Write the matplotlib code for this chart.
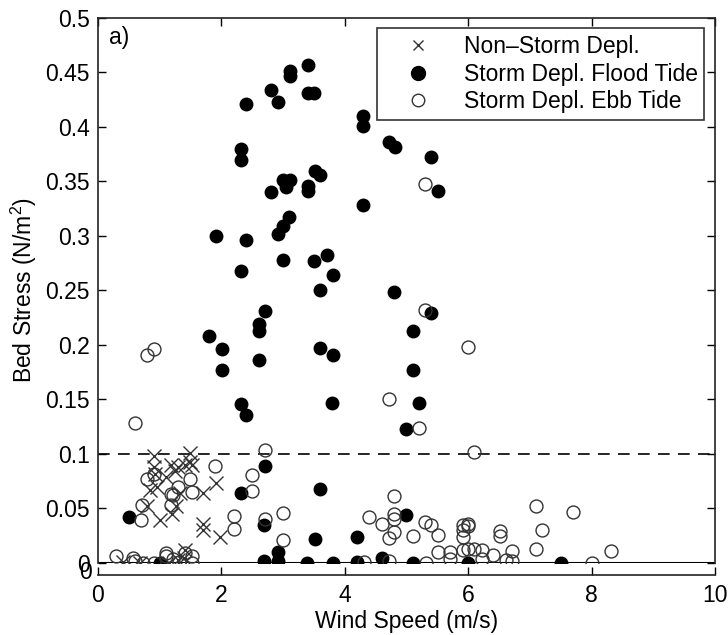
import matplotlib
matplotlib.use("Agg")
import matplotlib.pyplot as plt
from matplotlib.lines import Line2D

plt.rcParams['font.family'] = ['Liberation Sans', 'DejaVu Sans']
plt.rcParams['mathtext.fontset'] = 'custom'
plt.rcParams['mathtext.rm'] = 'Liberation Sans'

# Non-storm deployment
ns_x = [0.90, 0.90, 0.93, 1.19, 1.30, 1.49, 1.49, 1.41, 1.52, 1.92, 1.71, 0.84, 1.11, 1.25,
        0.79, 1.00, 1.27, 1.33, 1.71, 1.71, 1.98, 1.41, 0.41, 0.68, 1.15, 1.30, 1.40, 0.95, 1.20]
ns_y = [0.098, 0.088, 0.082, 0.090, 0.088, 0.101, 0.093, 0.090, 0.090, 0.073, 0.064, 0.067, 0.079, 0.084,
        0.052, 0.039, 0.052, 0.064, 0.036, 0.030, 0.024, 0.012, 0.001, 0.000, 0.000, 0.003, 0.005, 0.070, 0.045]

# Storm deployment, flood tide
fl_x = [1.91, 2.40, 2.40, 2.31, 2.31, 2.80, 2.91, 3.11, 3.11, 3.40, 3.40, 3.50, 4.30, 4.30, 4.72, 4.81,
        3.51, 3.60, 3.00, 3.11, 3.05, 2.80, 3.40, 3.40, 4.30, 3.10, 3.00, 2.91, 3.71, 3.00, 3.50, 2.31,
        3.81, 3.60, 4.80, 2.71, 2.61, 2.61, 1.80, 2.01, 3.60, 3.81, 2.61, 2.01, 5.10, 5.10, 2.31, 2.40,
        3.80, 5.20, 5.00, 5.40, 5.51, 5.40, 0.51, 2.71, 2.31, 3.60, 2.69, 3.52, 4.20, 2.91, 2.91, 2.69,
        1.00, 3.39, 3.81, 4.20, 4.61, 5.00, 5.10, 6.00, 7.50]
fl_y = [0.300, 0.421, 0.296, 0.380, 0.370, 0.434, 0.423, 0.451, 0.447, 0.457, 0.431, 0.431, 0.410, 0.401, 0.386, 0.382,
        0.360, 0.356, 0.351, 0.351, 0.345, 0.340, 0.346, 0.341, 0.328, 0.317, 0.309, 0.302, 0.283, 0.278, 0.277, 0.268,
        0.264, 0.250, 0.249, 0.231, 0.219, 0.213, 0.208, 0.196, 0.197, 0.191, 0.186, 0.177, 0.213, 0.177, 0.146, 0.136,
        0.147, 0.147, 0.123, 0.372, 0.341, 0.229, 0.042, 0.089, 0.064, 0.068, 0.035, 0.022, 0.024, 0.010, 0.002, 0.002,
        0.000, 0.000, 0.000, 0.001, 0.005, 0.044, 0.000, 0.000, 0.000]

# Storm deployment, ebb tide
eb_x = [0.80, 0.91, 0.60, 4.71, 5.30, 6.00, 5.20, 6.10, 5.30, 2.70, 1.90, 2.50, 2.50, 3.00, 2.70, 2.20,
        2.20, 3.00, 4.80, 4.40, 4.60, 4.80, 4.80, 4.80, 4.71, 5.10, 5.30, 5.40, 5.51, 5.51, 5.70, 5.70,
        5.31, 4.71, 4.31, 5.91, 6.00, 5.91, 5.91, 6.00, 5.91, 6.00, 6.10, 6.22, 6.22, 6.41, 6.51, 6.51,
        6.71, 6.71, 6.61, 7.10, 7.10, 7.20, 7.70, 8.00, 8.31, 0.30, 0.57, 0.60, 0.73, 0.90, 1.11, 1.11,
        1.22, 1.32, 1.41, 1.52, 1.52, 0.71, 0.69, 0.79, 0.91, 1.19, 1.19, 1.30, 1.22, 1.49, 1.52]
eb_y = [0.191, 0.196, 0.128, 0.150, 0.232, 0.198, 0.124, 0.102, 0.348, 0.104, 0.089, 0.081, 0.066, 0.046, 0.040, 0.043,
        0.031, 0.021, 0.061, 0.042, 0.036, 0.045, 0.040, 0.028, 0.023, 0.025, 0.038, 0.035, 0.026, 0.010, 0.010, 0.004,
        0.000, 0.002, 0.001, 0.035, 0.036, 0.030, 0.024, 0.034, 0.012, 0.013, 0.013, 0.012, 0.004, 0.007, 0.029, 0.025,
        0.011, 0.002, 0.003, 0.052, 0.013, 0.030, 0.047, 0.000, 0.011, 0.006, 0.005, 0.002, 0.000, 0.000, 0.009, 0.006,
        0.004, 0.001, 0.009, 0.006, 0.000, 0.053, 0.039, 0.077, 0.082, 0.063, 0.053, 0.070, 0.062, 0.077, 0.065]

x_ticks = [0, 2, 4, 6, 8, 10]
y_ticks = [0, 0.05, 0.1, 0.15, 0.2, 0.25, 0.3, 0.35, 0.4, 0.45, 0.5]
y_tick_labels = ['0', '0.05', '0.1', '0.15', '0.2', '0.25', '0.3', '0.35', '0.4', '0.45', '0.5']
threshold = 0.1

FS = 16.5
fig = plt.figure(figsize=(7.28, 6.35), dpi=100)
ax = fig.add_axes([0.1346, 0.1134, 0.8475, 0.8583])

for s in ax.spines.values():
    s.set_linewidth(1.2)
    s.set_color('#222222')
ax.spines['bottom'].set_position(('outward', 9))

ax.axhline(0, color='black', lw=1.5, zorder=1)
ax.axhline(threshold, color='black', lw=1.2, ls=(0, (7, 5)), zorder=1)

ax.plot(ns_x, ns_y, ls='none', marker='x', ms=10.5, mew=1.0, color='#333333', zorder=3)
ax.plot(fl_x, fl_y, ls='none', marker='o', ms=9, mfc='black', mec='black', zorder=2)
ax.plot(eb_x, eb_y, ls='none', marker='o', ms=9.3, mfc='none', mec='#333333', mew=1.0, zorder=3)

ax.set_xlim(0, 10)
ax.set_ylim(0, 0.5)
ax.set_xticks(x_ticks)
ax.set_xticklabels([str(t) for t in x_ticks])
ax.set_yticks(y_ticks)
ax.set_yticklabels(y_tick_labels)
ax.tick_params(direction='in', top=True, right=True, length=6, width=1.0, pad=6, labelsize=FS)

ax.set_xlabel('Wind Speed (m/s)', fontsize=FS, labelpad=2)
ax.set_ylabel(r'Bed Stress (N/m$^\mathregular{2}$)', fontsize=FS, labelpad=4)

ax.annotate('0', xy=(0, 0), xycoords=('axes fraction', 'data'), xytext=(-4.5, -6.5),
            textcoords='offset points', ha='right', va='center', fontsize=FS)

ax.text(0.018, 0.985, 'a)', transform=ax.transAxes, ha='left', va='top', fontsize=FS)

handles = [
    Line2D([], [], ls='none', marker='x', ms=7, mew=1.0, color='#333333'),
    Line2D([], [], ls='none', marker='o', ms=10, mfc='black', mec='black'),
    Line2D([], [], ls='none', marker='o', ms=9, mfc='none', mec='#333333', mew=1.0),
]
labels = ['Non\u2013Storm Depl.', 'Storm Depl. Flood Tide', 'Storm Depl. Ebb Tide']
leg = ax.legend(handles, labels, loc='upper right', bbox_to_anchor=(0.983, 0.981), fontsize=FS,
                frameon=True, fancybox=False, edgecolor='black', handlelength=3.0,
                handletextpad=0.5, borderpad=0.3, labelspacing=0.2, borderaxespad=0)
leg.get_frame().set_linewidth(1.2)

fig.savefig('out.png', dpi=100)
